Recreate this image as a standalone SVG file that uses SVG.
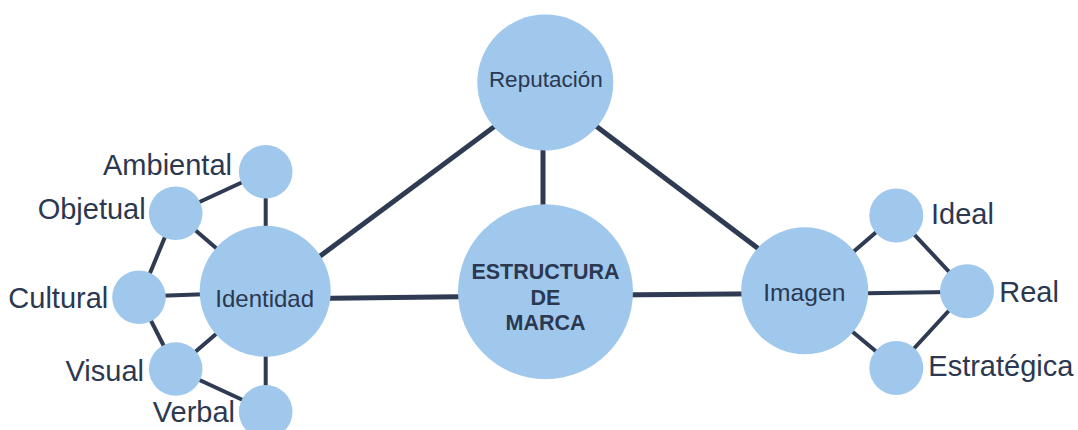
<svg xmlns="http://www.w3.org/2000/svg" width="1078" height="430" viewBox="0 0 1078 430">
<style>
.main{stroke:#2E3B52;stroke-width:5;stroke-linecap:butt;fill:none}
.sub{stroke:#2E3B52;stroke-width:4;stroke-linecap:butt;fill:none}
.node{fill:#9FC8EC}
.lbl{font-family:"Liberation Sans",Arial,sans-serif;font-size:29px;fill:#2B3850}
.in{font-family:"Liberation Sans",Arial,sans-serif;fill:#2B3850;text-anchor:middle}
</style>
<rect width="1078" height="430" fill="#FFFFFF"/>
<g id="connectors">
<line class="main" x1="300" y1="271" x2="510" y2="115"/>
<line class="main" x1="580" y1="114" x2="780" y2="265"/>
<line class="main" x1="543" y1="140" x2="543" y2="215"/>
<line class="main" x1="310" y1="298.5" x2="480" y2="296.5"/>
<line class="main" x1="610" y1="295" x2="770" y2="293.7"/>
<line class="sub" x1="180" y1="211" x2="260" y2="174"/>
<line class="sub" x1="265.7" y1="180" x2="265.7" y2="240"/>
<line class="sub" x1="180" y1="217" x2="230" y2="260"/>
<line class="sub" x1="172" y1="220" x2="143" y2="290"/>
<line class="sub" x1="140" y1="296.5" x2="225" y2="293.5"/>
<line class="sub" x1="143" y1="305" x2="172" y2="362"/>
<line class="sub" x1="180" y1="365" x2="230" y2="322"/>
<line class="sub" x1="180" y1="371" x2="260" y2="408"/>
<line class="sub" x1="265.7" y1="345" x2="265.7" y2="405"/>
<line class="sub" x1="830" y1="272" x2="896" y2="215"/>
<line class="sub" x1="896" y1="215" x2="967" y2="291"/>
<line class="sub" x1="850" y1="293.5" x2="967" y2="291.8"/>
<line class="sub" x1="830" y1="313" x2="896" y2="368"/>
<line class="sub" x1="967" y1="291" x2="896" y2="368"/>
</g>
<g id="reputacion">
<circle class="node" cx="545.3" cy="82.5" r="68"/>
<text class="in" x="545.8" y="87.3" font-size="22.5">Reputación</text>
</g>
<g id="estructura">
<circle class="node" cx="545.5" cy="291.7" r="87.5"/>
<text class="in" x="545.5" y="279.3" font-size="21.5" font-weight="bold">ESTRUCTURA</text>
<text class="in" x="545.5" y="304.8" font-size="21.5" font-weight="bold">DE</text>
<text class="in" x="545.5" y="330.3" font-size="21.5" font-weight="bold">MARCA</text>
</g>
<g id="identidad">
<circle class="node" cx="265.2" cy="291.2" r="65.5"/>
<text class="in" x="264.7" y="306.5" font-size="24">Identidad</text>
</g>
<g id="imagen">
<circle class="node" cx="804.7" cy="290.8" r="63.5"/>
<text class="in" x="804.3" y="300.7" font-size="24.6">Imagen</text>
</g>
<g id="ambiental">
<circle class="node" cx="265.7" cy="171.7" r="26.8"/>
<text class="lbl" x="232" y="175" text-anchor="end">Ambiental</text>
</g>
<g id="objetual">
<circle class="node" cx="175.7" cy="213.3" r="26.8"/>
<text class="lbl" x="145.7" y="219.3" text-anchor="end">Objetual</text>
</g>
<g id="cultural">
<circle class="node" cx="139" cy="297.3" r="26.8"/>
<text class="lbl" x="108.3" y="307.7" text-anchor="end">Cultural</text>
</g>
<g id="visual">
<circle class="node" cx="175.7" cy="369" r="26.8"/>
<text class="lbl" x="144" y="380.7" text-anchor="end">Visual</text>
</g>
<g id="verbal">
<circle class="node" cx="265.7" cy="411.7" r="26.8"/>
<text class="lbl" x="235" y="421.7" text-anchor="end">Verbal</text>
</g>
<g id="ideal">
<circle class="node" cx="896.3" cy="215.5" r="27"/>
<text class="lbl" x="931" y="224.3">Ideal</text>
</g>
<g id="real">
<circle class="node" cx="967" cy="291.3" r="27"/>
<text class="lbl" x="999.3" y="302.3">Real</text>
</g>
<g id="estrategica">
<circle class="node" cx="896.3" cy="368" r="27"/>
<text class="lbl" x="928.3" y="375.7">Estratégica</text>
</g>
</svg>
